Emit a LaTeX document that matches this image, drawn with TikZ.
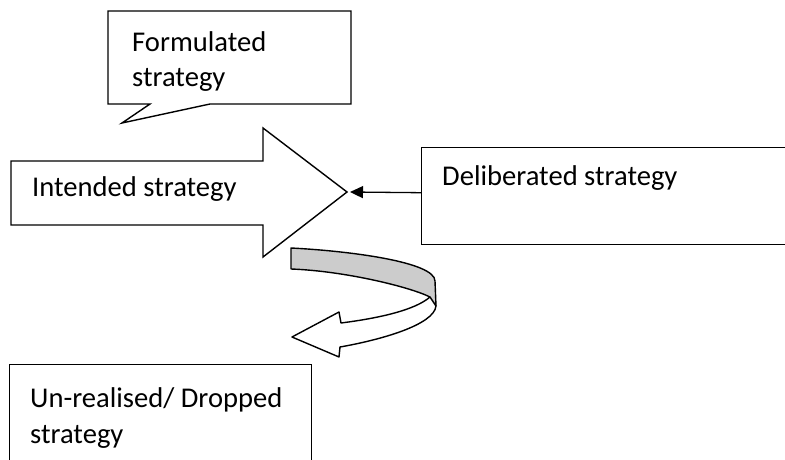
\documentclass[tikz,border=0pt]{standalone}
\usepackage{fontspec}
\setmainfont{Carlito}
\usetikzlibrary{arrows.meta}
\begin{document}
\begin{tikzpicture}[x=1pt,y=-1pt,
  outline/.style={draw=black,line width=1.4pt,line join=miter},
  txt/.style={anchor=base west,inner sep=0pt,font=\fontsize{28.6}{35.5}\selectfont},
  conn/.style={draw=black,line width=1.3pt,-{Triangle[length=13pt,width=12pt]}},
]
\useasboundingbox (0,0) rectangle (785,460);
\clip (0,0) rectangle (785,460);
\fill[white] (0,0) rectangle (785,460);

% speech callout
\draw[outline,fill=white] (108,11) -- (351,11) -- (351,104) -- (210,104)
  -- (122,123) -- (150,104) -- (108,104) -- cycle;
\node[txt] (formulated) at (132,52) {Formulated};
\node[txt] (formulated2) at (132,87) {strategy};

% block arrow
\draw[outline,fill=white] (11,161) -- (263,161) -- (263,128) -- (347,192)
  -- (263,257) -- (263,225) -- (11,225) -- cycle;
\coordinate (tip) at (347,192);
\node[txt] (intended) at (32,196) {Intended strategy};

% deliberated box, running off the right edge
\node[outline,fill=white,anchor=north west,minimum width=400pt,minimum height=97pt,inner sep=0pt]
  (delib) at (421,147) {};
\node[txt] (delibtext) at (442,185) {Deliberated strategy};
\draw[conn] ([yshift=3.5pt]delib.west) -- ([xshift=3pt]tip);

% curved ribbon arrow: shaded back band
\fill[gray!40] (291,248) .. controls (350,251) and (435,262) .. (435,281)
  -- (436,306) -- (430,297)
  .. controls (410,287) and (345,271) .. (291,269) -- cycle;
% white front band with head
\fill[white] (430,297) -- (436,306)
  .. controls (434,325) and (380,340) .. (340,347)
  -- (339,357) -- (292,337) -- (339,312) -- (341,323)
  .. controls (380,318) and (415,310) .. (430,297) -- cycle;
% ribbon outline
\draw[outline,line join=round] (291,248) .. controls (350,251) and (435,262) .. (435,281)
  -- (436,306)
  .. controls (434,325) and (380,340) .. (340,347)
  -- (339,357) -- (292,337) -- (339,312) -- (341,323)
  .. controls (380,318) and (415,310) .. (430,297)
  .. controls (410,287) and (345,271) .. (291,269) -- cycle;
\draw[outline] (430,297) -- (436,306);

% dropped strategy box, running off the bottom edge
\node[outline,fill=white,anchor=north west,minimum width=302pt,minimum height=120pt,inner sep=0pt]
  (dropped) at (9,364) {};
\node[txt] (droppedtext) at (30,407) {Un-realised/ Dropped};
\node[txt] (droppedtext2) at (30,443) {strategy};
\end{tikzpicture}
\end{document}
